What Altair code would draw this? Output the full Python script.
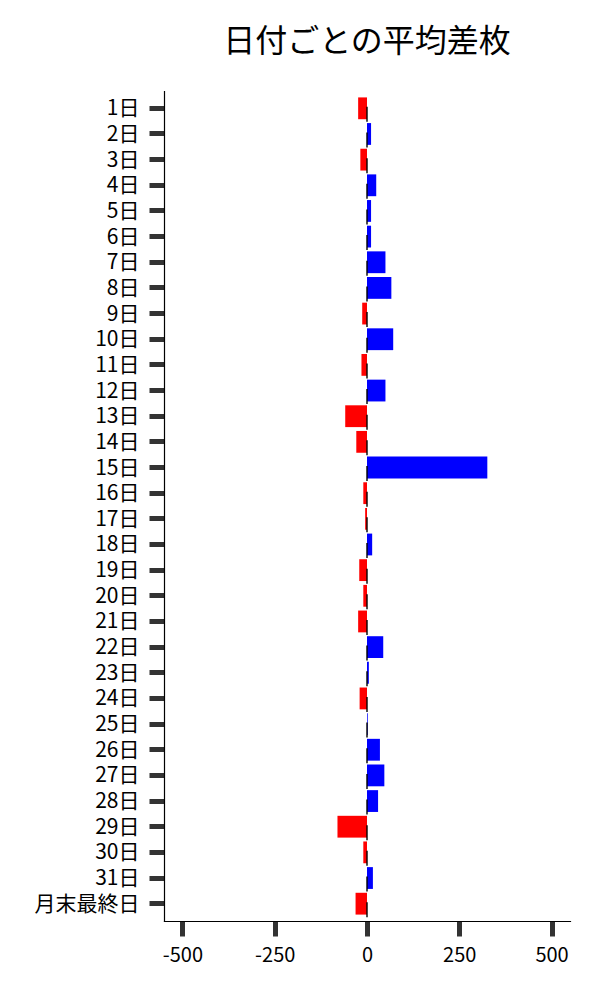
import altair as alt
import pandas as pd

days = [f"{i}日" for i in range(1, 32)] + ["月末最終日"]
values = [-24, 11, -18, 25, 11, 11, 50, 66, -13, 71, -15, 50,
          -59, -29, 326, -10, -5, 14, -21, -10, -24, 44, 5, -20,
          2, 35, 47, 30, -80, -10, 16, -31]
x_ticks = [-500, -250, 0, 250, 500]

df = pd.DataFrame({"day": days, "value": values})
df["sign"] = ["pos" if v >= 0 else "neg" for v in values]
df["zero"] = 0

FONT = "Noto Sans CJK JP"

yscale = alt.Scale(domain=days, paddingInner=0.15, paddingOuter=0.25)
xscale = alt.Scale(domain=[-550, 550], nice=False, zero=False)

bars = alt.Chart(df).mark_bar().encode(
    y=alt.Y("day:N", sort=days, scale=yscale, title=None,
            axis=alt.Axis(labelFont=FONT, labelFontSize=21, labelColor="#000",
                          labelPadding=10, tickSize=15, tickWidth=5,
                          tickColor="#333", domainColor="#000", domainWidth=1.2,
                          grid=False, labelAngle=0, labelOffset=1)),
    x=alt.X("value:Q", scale=xscale, title=None,
            axis=alt.Axis(values=x_ticks, labelFont=FONT, labelFontSize=20,
                          labelColor="#000", labelPadding=9, tickSize=15,
                          tickWidth=5, tickColor="#333", domainColor="#000",
                          domainWidth=1.2, grid=False,
                          labelExpr="'' + datum.value")),
    color=alt.Color("sign:N", scale=alt.Scale(domain=["pos", "neg"],
                                              range=["#0000ff", "#ff0000"]),
                    legend=None),
)

err = alt.Chart(df).mark_tick(color="black", size=15, thickness=2, yOffset=6).encode(
    y=alt.Y("day:N", sort=days, scale=yscale),
    x=alt.X("zero:Q", scale=xscale),
)

chart = (bars + err).properties(
    width=406,
    height=830,
    title=alt.TitleParams("日付ごとの平均差枚", font=FONT, fontSize=32,
                          fontWeight="normal", color="#000", anchor="middle",
                          offset=32),
    autosize=alt.AutoSizeParams(type="none"),
    padding={"left": 156, "top": 83, "right": 18, "bottom": 70},
).configure_view(stroke=None).configure_axis(domainCap="square")

chart.save("out.html", embed_options={"renderer": "svg", "actions": False})
